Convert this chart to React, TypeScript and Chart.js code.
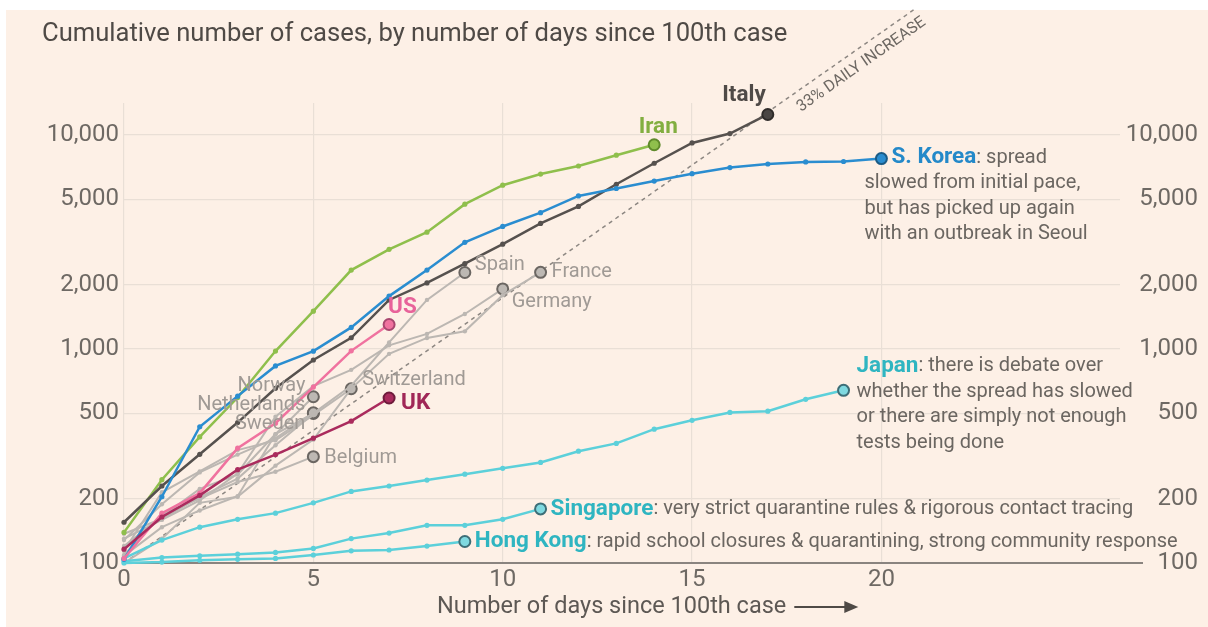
import React, { useEffect, useRef } from "react";
import { Chart, registerables } from "chart.js";

Chart.register(...registerables);

// ---------- data ----------
const X_TICKS = [0, 5, 10, 15, 20];
const Y_TICKS = [100, 200, 500, 1000, 2000, 5000, 10000];
const X_MAX = 26.3;
const Y_MIN = 100;
const Y_MAX = 14100;

const ITALY = [155, 229, 322, 453, 655, 888, 1128, 1694, 2036, 2502, 3089, 3858, 4636, 5883, 7375, 9172, 10149, 12462];
const IRAN = [139, 245, 388, 593, 978, 1501, 2336, 2922, 3513, 4747, 5823, 6566, 7161, 8042, 9000];
const SKOREA = [104, 204, 433, 602, 833, 977, 1261, 1766, 2337, 3150, 3736, 4335, 5186, 5621, 6088, 6593, 7041, 7314, 7478, 7513, 7755];
const US = [105, 171, 212, 344, 450, 664, 980, 1301];
const UK = [116, 164, 207, 273, 321, 383, 460, 590];
const JAPAN = [105, 128, 147, 160, 171, 191, 216, 229, 244, 260, 277, 295, 333, 362, 422, 464, 505, 512, 582, 641];
const SINGAPORE = [102, 106, 108, 110, 112, 117, 130, 138, 150, 150, 160, 179];
const HONGKONG = [100, 101, 103, 104, 105, 109, 114, 115, 120, 126];
const SPAIN = [120, 165, 222, 259, 400, 500, 673, 1073, 1695, 2277];
const FRANCE = [100, 130, 191, 204, 285, 377, 653, 949, 1126, 1209, 1784, 2281];
const GERMANY = [130, 159, 196, 262, 482, 670, 799, 1040, 1176, 1457, 1908];
const SWITZERLAND = [114, 214, 268, 337, 374, 491, 652];
const NORWAY = [108, 147, 176, 205, 400, 598];
const NETHERLANDS = [128, 188, 265, 321, 382, 503];
const SWEDEN = [137, 161, 203, 248, 355, 500];
const BELGIUM = [109, 169, 200, 239, 267, 314];
const RATE_DAYS = [0, 20.85];
const RATE_VALUES = [100, 38400];

const TITLE = "Cumulative number of cases, by number of days since 100th case";
const X_TITLE = "Number of days since 100th case";
const RATE_LABEL = "33% DAILY INCREASE";
const KOREA_NOTE = [": spread", "slowed from initial pace,", "but has picked up again", "with an outbreak in Seoul"];
const JAPAN_NOTE = [": there is debate over", "whether the spread has slowed", "or there are simply not enough", "tests being done"];
const SINGAPORE_NOTE = ": very strict quarantine rules & rigorous contact tracing";
const HONGKONG_NOTE = ": rapid school closures & quarantining, strong community response";

// ---------- style ----------
const FONT = 'Roboto, "Open Sans", sans-serif';
const BG = "#fdf0e6";
const GRID = "#e9dfd6";
const TICK = "#6e6964";
const GRAY_LINE = "#bcb7b2";
const GRAY_TEXT = "#a09a95";
const NOTE_TEXT = "#6b6661";
const CYAN = "#5cd0da";
const CYAN_TEXT = "#2fb5c1";

type S = { data: number[]; color: string; fill: string; edge: string; width: number; dot: number };
const SERIES: S[] = [
  { data: UK, color: "#aa2b5d", fill: "#aa2b5d", edge: "#6e1b3c", width: 2.5, dot: 2.6 },
  { data: US, color: "#f0729f", fill: "#f0729f", edge: "#a8476f", width: 2.5, dot: 2.6 },
  { data: SKOREA, color: "#2a8dd0", fill: "#2a8dd0", edge: "#1b5b86", width: 2.5, dot: 2.6 },
  { data: ITALY, color: "#56514e", fill: "#4a4644", edge: "#2f2c2a", width: 2.5, dot: 2.6 },
  { data: IRAN, color: "#8fbf4c", fill: "#8fbf4c", edge: "#5f8a2b", width: 2.5, dot: 2.6 },
  { data: JAPAN, color: CYAN, fill: "#7fd9e0", edge: "#3d6e77", width: 2.5, dot: 2.6 },
  { data: SINGAPORE, color: CYAN, fill: "#7fd9e0", edge: "#3d6e77", width: 2.5, dot: 2.6 },
  { data: HONGKONG, color: CYAN, fill: "#7fd9e0", edge: "#3d6e77", width: 2.5, dot: 2.6 },
  { data: SPAIN, color: GRAY_LINE, fill: "#bdb8b3", edge: "#6b6662", width: 2, dot: 2.2 },
  { data: FRANCE, color: GRAY_LINE, fill: "#bdb8b3", edge: "#6b6662", width: 2, dot: 2.2 },
  { data: GERMANY, color: GRAY_LINE, fill: "#bdb8b3", edge: "#6b6662", width: 2, dot: 2.2 },
  { data: SWITZERLAND, color: GRAY_LINE, fill: "#bdb8b3", edge: "#6b6662", width: 2, dot: 2.2 },
  { data: NORWAY, color: GRAY_LINE, fill: "#bdb8b3", edge: "#6b6662", width: 2, dot: 2.2 },
  { data: NETHERLANDS, color: GRAY_LINE, fill: "#bdb8b3", edge: "#6b6662", width: 2, dot: 2.2 },
  { data: SWEDEN, color: GRAY_LINE, fill: "#bdb8b3", edge: "#6b6662", width: 2, dot: 2.2 },
  { data: BELGIUM, color: GRAY_LINE, fill: "#bdb8b3", edge: "#6b6662", width: 2, dot: 2.2 },
];

function drawText(ctx: CanvasRenderingContext2D, s: string, x: number, y: number, font: string, color: string, align: CanvasTextAlign = "left") {
  ctx.font = font;
  ctx.fillStyle = color;
  ctx.textAlign = align;
  ctx.textBaseline = "middle";
  ctx.fillText(s, x, y);
  return ctx.measureText(s).width;
}

const BOLD = `bold 22.5px ${FONT}`;
const LABEL = `20px ${FONT}`;
const NOTE = `20px ${FONT}`;

const bgPlugin = {
  id: "bg",
  beforeDraw(chart: any) {
    const { ctx, width, height } = chart;
    ctx.save();
    ctx.fillStyle = "#ffffff";
    ctx.fillRect(0, 0, width, height);
    ctx.fillStyle = BG;
    ctx.fillRect(6, 10, width - 6, height - 10);
    ctx.restore();
  },
  beforeDatasetsDraw(chart: any) {
    const { ctx, chartArea } = chart;
    ctx.save();
    ctx.strokeStyle = "#8a847f";
    ctx.lineWidth = 2;
    ctx.beginPath();
    ctx.moveTo(chartArea.left, chartArea.bottom);
    ctx.lineTo(chartArea.right + 23, chartArea.bottom);
    ctx.stroke();
    ctx.restore();
  },
};

const labelPlugin = {
  id: "labels",
  afterDraw(chart: any) {
    const { ctx, chartArea } = chart;
    const xs = chart.scales.x;
    const ys = chart.scales.y;
    const pt = (arr: number[]) => ({ x: xs.getPixelForValue(arr.length - 1), y: ys.getPixelForValue(arr[arr.length - 1]) });
    ctx.save();

    // title
    drawText(ctx, TITLE, 42, 35, `25.6px ${FONT}`, "#4f4a46");

    // x axis title + arrow
    const tx = chartArea.left + 313;
    const ty = chartArea.bottom + 44;
    const w = drawText(ctx, X_TITLE, tx, ty, `23.5px ${FONT}`, "#5d5854");
    ctx.strokeStyle = "#4f4a46";
    ctx.fillStyle = "#4f4a46";
    ctx.lineWidth = 2;
    ctx.beginPath();
    ctx.moveTo(tx + w + 8, ty);
    ctx.lineTo(tx + w + 60, ty);
    ctx.stroke();
    ctx.beginPath();
    ctx.moveTo(tx + w + 72, ty);
    ctx.lineTo(tx + w + 58, ty - 6);
    ctx.lineTo(tx + w + 58, ty + 6);
    ctx.closePath();
    ctx.fill();

    // rate label
    const x0 = xs.getPixelForValue(RATE_DAYS[0]);
    const y0 = ys.getPixelForValue(RATE_VALUES[0]);
    const x1 = xs.getPixelForValue(RATE_DAYS[1]);
    const y1 = ys.getPixelForValue(RATE_VALUES[1]);
    const ang = Math.atan2(y1 - y0, x1 - x0);
    const t = 0.923;
    const cx = x0 + t * (x1 - x0) - 15 * Math.sin(ang);
    const cy = y0 + t * (y1 - y0) + 15 * Math.cos(ang);
    ctx.save();
    ctx.translate(cx, cy);
    ctx.rotate(ang);
    drawText(ctx, RATE_LABEL, 0, 0, `16px ${FONT}`, "#6d6863", "center");
    ctx.restore();

    // colored labels
    let p = pt(ITALY);
    drawText(ctx, "Italy", p.x - 2, p.y - 19, BOLD, "#4f4a47", "right");
    p = pt(IRAN);
    drawText(ctx, "Iran", p.x + 4, p.y - 17, BOLD, "#82ae40", "center");
    p = pt(SKOREA);
    let bw = drawText(ctx, "S. Korea", p.x + 10, p.y - 1, BOLD, "#2489c9");
    drawText(ctx, KOREA_NOTE[0], p.x + 10 + bw, p.y - 1, NOTE, NOTE_TEXT);
    for (let i = 1; i < KOREA_NOTE.length; i++) drawText(ctx, KOREA_NOTE[i], p.x - 17, p.y - 1 + 25.5 * i, NOTE, NOTE_TEXT);
    p = pt(US);
    drawText(ctx, "US", p.x - 1, p.y - 17, BOLD, "#e8639a");
    p = pt(UK);
    drawText(ctx, "UK", p.x + 12, p.y + 5, BOLD, "#a02757");
    p = pt(JAPAN);
    bw = drawText(ctx, "Japan", p.x + 13, p.y - 24, BOLD, CYAN_TEXT);
    drawText(ctx, JAPAN_NOTE[0], p.x + 13 + bw, p.y - 24, NOTE, NOTE_TEXT);
    for (let i = 1; i < JAPAN_NOTE.length; i++) drawText(ctx, JAPAN_NOTE[i], p.x + 13, p.y - 24 + 25.5 * i, NOTE, NOTE_TEXT);
    p = pt(SINGAPORE);
    bw = drawText(ctx, "Singapore", p.x + 10, p.y, BOLD, CYAN_TEXT);
    drawText(ctx, SINGAPORE_NOTE, p.x + 10 + bw, p.y, NOTE, NOTE_TEXT);
    p = pt(HONGKONG);
    bw = drawText(ctx, "Hong Kong", p.x + 10, p.y, BOLD, CYAN_TEXT);
    drawText(ctx, HONGKONG_NOTE, p.x + 10 + bw, p.y, NOTE, NOTE_TEXT);

    // gray labels
    p = pt(SPAIN);
    drawText(ctx, "Spain", p.x + 10, p.y - 7, LABEL, GRAY_TEXT);
    p = pt(FRANCE);
    drawText(ctx, "France", p.x + 11, p.y, LABEL, GRAY_TEXT);
    p = pt(GERMANY);
    drawText(ctx, "Germany", p.x + 9, p.y + 13, LABEL, GRAY_TEXT);
    p = pt(SWITZERLAND);
    drawText(ctx, "Switzerland", p.x + 11, p.y - 9, LABEL, GRAY_TEXT);
    p = pt(NORWAY);
    drawText(ctx, "Norway", p.x - 8, p.y - 11, LABEL, GRAY_TEXT, "right");
    p = pt(NETHERLANDS);
    drawText(ctx, "Netherlands", p.x - 8, p.y - 8, LABEL, GRAY_TEXT, "right");
    p = pt(SWEDEN);
    drawText(ctx, "Sweden", p.x - 8, p.y + 11, LABEL, GRAY_TEXT, "right");
    p = pt(BELGIUM);
    drawText(ctx, "Belgium", p.x + 11, p.y + 1, LABEL, GRAY_TEXT);

    ctx.restore();
  },
};

const tickFont = { family: FONT, size: 24 };
const setYTicks = (s: any) => {
  s.ticks = Y_TICKS.map((v) => ({ value: v }));
};
const fmt = (v: any) => Number(v).toLocaleString("en-US");

export default function App() {
  const ref = useRef<HTMLCanvasElement>(null);
  useEffect(() => {
    if (!ref.current) return;
    const datasets: any[] = SERIES.map((s) => {
      const last = s.data.length - 1;
      return {
        data: s.data.map((v, i) => ({ x: i, y: v })),
        borderColor: s.color,
        borderWidth: s.width,
        tension: 0,
        clip: 8,
        pointRadius: (c: any) => (c.dataIndex === last ? 5.5 : s.dot),
        pointBackgroundColor: (c: any) => (c.dataIndex === last ? s.fill : s.color),
        pointBorderColor: (c: any) => (c.dataIndex === last ? s.edge : s.color),
        pointBorderWidth: (c: any) => (c.dataIndex === last ? 2 : 0),
      };
    });
    datasets.push({
      data: RATE_DAYS.map((d, i) => ({ x: d, y: RATE_VALUES[i] })),
      borderColor: "#8d8782",
      borderWidth: 1.5,
      borderDash: [4, 4],
      pointRadius: 0,
      clip: false,
    });
    const chart = new Chart(ref.current, {
      type: "line",
      data: { datasets },
      options: {
        responsive: false,
        animation: false,
        events: [],
        layout: { padding: { top: 103, right: 10, left: 0, bottom: 0 } },
        plugins: { legend: { display: false }, tooltip: { enabled: false }, title: { display: false } },
        scales: {
          x: {
            type: "linear",
            min: 0,
            max: X_MAX,
            afterBuildTicks: (s: any) => {
              s.ticks = X_TICKS.map((v) => ({ value: v }));
            },
            afterFit: (s: any) => {
              s.height = 64;
            },
            grid: { color: GRID, drawTicks: false, lineWidth: 1.2 },
            border: { display: false },
            ticks: { font: tickFont, color: TICK, padding: 3, maxRotation: 0, autoSkip: false },
          },
          y: {
            type: "logarithmic",
            position: "left",
            min: Y_MIN,
            max: Y_MAX,
            afterBuildTicks: setYTicks,
            afterFit: (s: any) => {
              s.width = 124;
            },
            grid: { color: GRID, drawTicks: false, lineWidth: 1.2 },
            border: { display: false },
            ticks: { font: tickFont, color: TICK, padding: 5, autoSkip: false, callback: fmt },
          },
          y2: {
            type: "logarithmic",
            position: "right",
            min: Y_MIN,
            max: Y_MAX,
            afterBuildTicks: setYTicks,
            afterFit: (s: any) => {
              s.width = 78;
            },
            grid: { display: false, drawTicks: false },
            border: { display: false },
            ticks: { font: tickFont, color: TICK, padding: 5, autoSkip: false, crossAlign: "far", callback: fmt },
          },
        },
      } as any,
      plugins: [bgPlugin, labelPlugin],
    });
    return () => chart.destroy();
  }, []);
  return (
    <div style={{ position: "absolute", left: 0, top: 0, width: 1208, height: 627 }}>
      <canvas ref={ref} width={1208} height={627} style={{ display: "block", width: 1208, height: 627 }} />
    </div>
  );
}
